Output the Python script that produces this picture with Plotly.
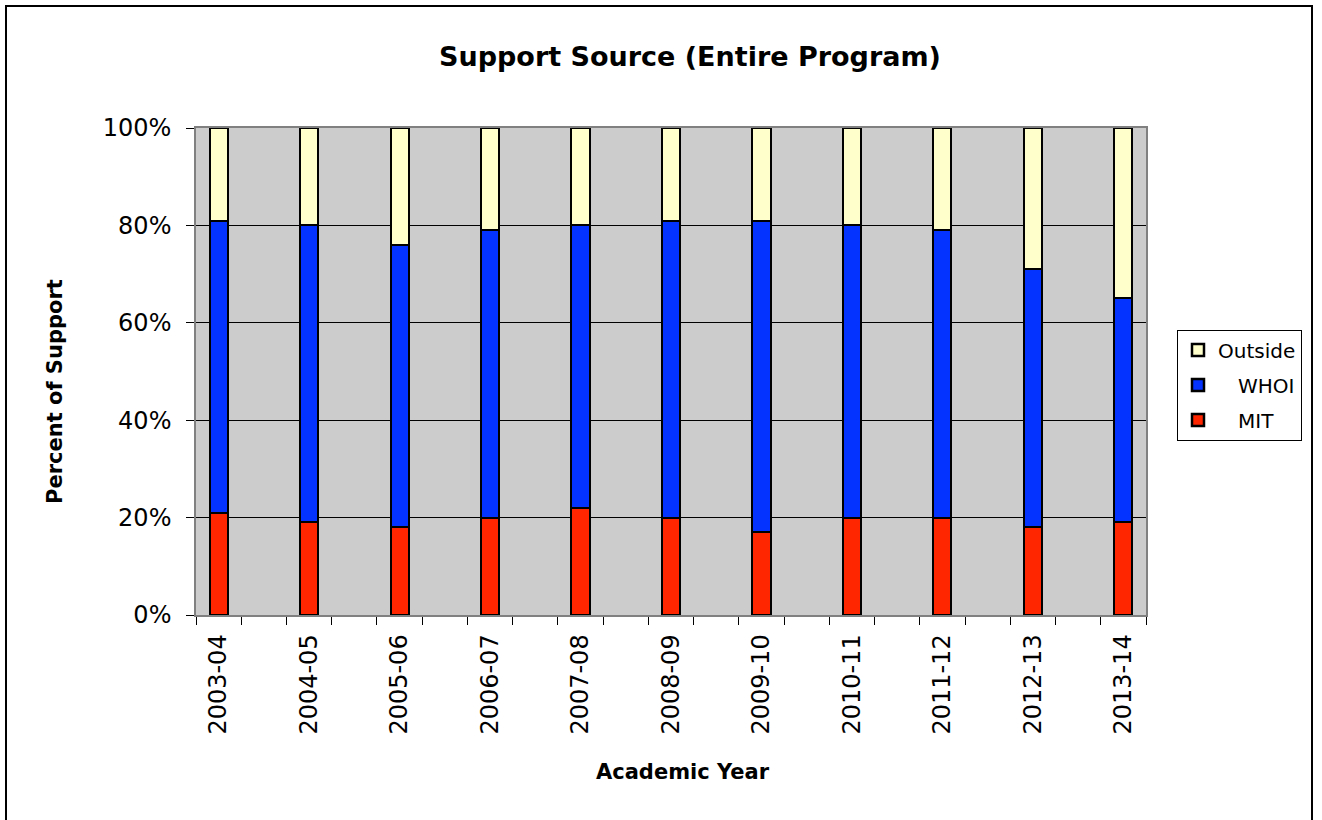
import plotly.graph_objects as go

years = ["2003-04", "2004-05", "2005-06", "2006-07", "2007-08", "2008-09",
         "2009-10", "2010-11", "2011-12", "2012-13", "2013-14"]
mit = [21, 19, 18, 20, 22, 20, 17, 20, 20, 18, 19]
whoi = [60, 61, 58, 59, 58, 61, 64, 60, 59, 53, 46]
outside = [19, 20, 24, 21, 20, 19, 19, 20, 21, 29, 35]

xpos = list(range(len(years)))
FONT = "DejaVu Sans"

# plot area in pixels (for placing titles)
L, R, T, B = 196, 1146, 128, 615
W, H = R - L, B - T

fig = go.Figure()
series = [("MIT", mit, "#ff2600", "\u2003MIT", 3),
          ("WHOI", whoi, "#0433ff", "\u2003WHOI", 2),
          ("Outside", outside, "#ffffcc", "Outside", 1)]
for grp, vals, col, label, rank in series:
    fig.add_trace(go.Bar(
        x=xpos, y=vals, name=label, legendgroup=grp, legendrank=rank,
        marker=dict(color=col, line=dict(color="black", width=2.5)),
        width=0.2,
    ))

fig.update_layout(
    width=1322, height=820,
    barmode="stack",
    paper_bgcolor="white",
    plot_bgcolor="#cccccc",
    margin=dict(l=L, r=1322 - R, t=T, b=820 - B, autoexpand=False),
    font=dict(family=FONT, color="black", size=22),
    title=dict(text="<b>Support Source (Entire Program)</b>", x=0.52, xref="paper",
               xanchor="center", y=1 - 57 / 820, yref="container", yanchor="middle",
               font=dict(family=FONT, size=27, color="black")),
    legend=dict(
        x=(1177 - L) / W, xanchor="left", y=(B - 385) / H, yanchor="middle",
        traceorder="grouped", tracegroupgap=6,
        bgcolor="white", bordercolor="black", borderwidth=1,
        font=dict(family=FONT, size=20, color="black"),
    ),
    showlegend=True,
    bargap=0,
)

fig.update_xaxes(
    range=[-0.25, len(years) - 0.75],
    tickmode="array", tickvals=xpos, ticktext=years,
    tickangle=-90, ticks="", ticklabelstandoff=8,
    tickfont=dict(family=FONT, size=24, color="black"),
    showgrid=False, zeroline=False,
    showline=True, linecolor="#808080", linewidth=1.5, mirror=True,
    minor=dict(ticks="outside", tick0=-0.25, dtick=0.5, ticklen=8,
               tickcolor="black", tickwidth=1, showgrid=False),
)
fig.update_yaxes(
    range=[0, 100], tickmode="linear", tick0=0, dtick=20,
    ticksuffix="%", ticks="outside", ticklen=8, tickcolor="black", tickwidth=1,
    ticklabelstandoff=10,
    tickfont=dict(family=FONT, size=24, color="black"),
    showgrid=True, gridcolor="black", gridwidth=1, zeroline=False,
    showline=True, linecolor="#808080", linewidth=1.5, mirror=True,
)

# axis titles
fig.add_annotation(text="<b>Academic Year</b>", xref="paper", yref="paper",
                   x=(683 - L) / W, y=(B - 772) / H, xanchor="center", yanchor="middle",
                   showarrow=False, font=dict(family=FONT, size=21, color="black"))
fig.add_annotation(text="<b>Percent of Support</b>", xref="paper", yref="paper",
                   x=(55 - L) / W, y=(B - 392) / H, xanchor="center", yanchor="middle",
                   textangle=-90, showarrow=False,
                   font=dict(family=FONT, size=21, color="black"))

# outer chart border
fig.add_shape(type="rect", xref="paper", yref="paper",
              x0=(6 - L) / W, x1=(1312 - L) / W,
              y0=(B - 840) / H, y1=(B - 6) / H,
              line=dict(color="black", width=2), fillcolor="rgba(0,0,0,0)",
              layer="below")

fig.write_html("out.html")
